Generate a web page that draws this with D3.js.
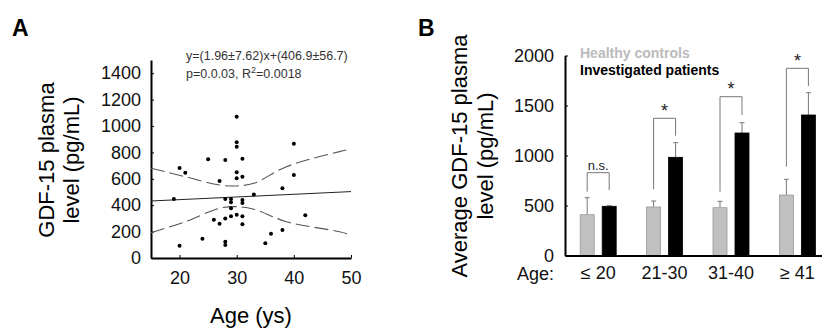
<html>
<head>
<meta charset="utf-8">
<title>GDF-15</title>
<script src="https://d3js.org/d3.v7.min.js"></script>
<style>
  body { margin: 0; background: #fff; }
  svg { font-family: "Liberation Sans", Arial, sans-serif; display: block; }
  .axis path, .axis line { stroke: #000; }
  .axis path { stroke-width: 2px; }
  .axis text { font-size: 18px; fill: #111; }
</style>
</head>
<body>
<div id="chart"></div>
<script>
// panel A: scatter
var ages   = [19,20,20,21,24,25,26,27,27,28,28,28,28,28,29,29,29,29,30,30,30,30,30,30,31,31,31,31,31,31,33,35,36,38,38,40,40,42];
var levels = [447,93,682,646,146,748,290,583,260,742,447,300,124,98,447,422,376,316,1070,876,843,649,604,328,752,616,439,417,316,255,482,111,184,528,212,866,629,323];
var fitLine   = [[15,432],[50,503]];
var upperBand = [[15,680],[21,616],[27,553],[30,546],[33,566],[38.7,692],[48,806],[50,825]];
var lowerBand = [[15,192],[21,275],[27,377],[30,389],[33,369],[38.7,275],[48,199],[50,174]];
var yTicksA = [0,200,400,600,800,1000,1200,1400];
var xTicksA = [20,30,40,50];

// panel B: bars
var groups    = ["≤ 20","21-30","31-40","≥ 41"];
var controls  = [408,485,478,605];
var controlsErr = [578,545,542,762];
var patients  = [492,982,1225,1405];
var patientsErr = [498,1128,1328,1628];
var bracketTop   = [828,1372,1588,1872];
var bracketLeft  = [638,662,638,888];
var bracketRight = [655,1198,1405,1695];
var sigLabels = ["n.s.","*","*","*"];
var yTicksB = [0,500,1000,1500,2000];

var svg = d3.select("#chart").append("svg").attr("width", 822).attr("height", 329);
var fmt = d3.format("d");

// ---------- A ----------
var xA = d3.scaleLinear().domain([15,50]).range([151,351]);
var yA = d3.scaleLinear().domain([0,1500]).range([258,60]);

svg.append("text").attr("x", 12).attr("y", 36).style("font-size","23px").style("font-weight","bold").text("A");

svg.append("g").attr("class","axis").attr("transform","translate(151,0)")
  .call(d3.axisLeft(yA).tickValues(yTicksA).tickFormat(fmt).tickSizeInner(-3).tickSizeOuter(0).tickPadding(10));
svg.append("g").attr("class","axis").attr("transform","translate(0,258)")
  .call(d3.axisBottom(xA).tickValues(xTicksA).tickFormat(fmt).tickSizeInner(-3).tickSizeOuter(0).tickPadding(13));

var lineA = d3.line().x(function(d){ return xA(d[0]); }).y(function(d){ return yA(d[1]); });
var curveA = d3.line().curve(d3.curveCatmullRom).x(function(d){ return xA(d[0]); }).y(function(d){ return yA(d[1]); });

svg.append("path").datum(fitLine).attr("d", lineA).attr("fill","none").attr("stroke","#222").attr("stroke-width",1);
[upperBand, lowerBand].forEach(function(b) {
  svg.append("path").datum(b).attr("d", curveA).attr("fill","none")
    .attr("stroke","#555").attr("stroke-width",1.1).attr("stroke-dasharray","14,5");
});

svg.selectAll("circle.pt").data(ages).enter().append("circle").attr("class","pt")
  .attr("cx", function(d){ return xA(d); })
  .attr("cy", function(d,i){ return yA(levels[i]); })
  .attr("r", 2).attr("fill","#000");

var ann = svg.append("g").style("font-size","12.5px").style("fill","#333");
ann.append("text").attr("x",186).attr("y",60).text("y=(1.96±7.62)x+(406.9±56.7)");
var t2 = ann.append("text").attr("x",186).attr("y",78);
t2.append("tspan").text("p=0.0.03, R");
t2.append("tspan").attr("dy",-5).style("font-size","9px").text("2");
t2.append("tspan").attr("dy",5).text("=0.0018");

var ytA = svg.append("g").attr("transform","translate(0,160) rotate(-90)").style("font-size","22px").attr("text-anchor","middle");
ytA.append("text").attr("y",54).text("GDF-15 plasma");
ytA.append("text").attr("y",79).text("level (pg/mL)");
svg.append("text").attr("x",251).attr("y",323).attr("text-anchor","middle").style("font-size","22px").text("Age (ys)");

// ---------- B ----------
var xB = d3.scaleBand().domain(groups).range([565, 830.6]).padding(0);
var sub = d3.scaleBand().domain(["c","p"]).range([-18,18]).paddingInner(0.3636).paddingOuter(0);
var yB = d3.scaleLinear().domain([0,2000]).range([255.5,55.5]);
var cx = function(i){ return xB(groups[i]) + xB.bandwidth()/2; };

svg.append("text").attr("x", 418).attr("y", 36).style("font-size","23px").style("font-weight","bold").text("B");

var bars = svg.append("g");
groups.forEach(function(g,i) {
  var c = cx(i);
  [[controls, controlsErr, "c", "#c0c0c0", "#999"], [patients, patientsErr, "p", "#000", "#000"]].forEach(function(s) {
    var x0 = c + sub(s[2]), xm = x0 + sub.bandwidth()/2;
    bars.append("line").attr("x1",xm).attr("x2",xm).attr("y1",yB(s[0][i])).attr("y2",yB(s[1][i]))
      .attr("stroke","#777").attr("stroke-width",1);
    bars.append("line").attr("x1",xm-2.5).attr("x2",xm+2.5).attr("y1",yB(s[1][i])).attr("y2",yB(s[1][i]))
      .attr("stroke","#777").attr("stroke-width",1);
    bars.append("rect").attr("x",x0).attr("width",sub.bandwidth())
      .attr("y",yB(s[0][i])).attr("height",yB(0)-yB(s[0][i]))
      .attr("fill",s[3]).attr("stroke",s[4]).attr("stroke-width",0.8);
  });
  var xl = c + sub("c") + sub.bandwidth()/2, xr = c + sub("p") + sub.bandwidth()/2;
  bars.append("path").attr("fill","none").attr("stroke","#777").attr("stroke-width",1)
    .attr("d","M"+xl+","+yB(bracketLeft[i])+"V"+yB(bracketTop[i])+"H"+xr+"V"+yB(bracketRight[i]));
  var ns = sigLabels[i] === "n.s.";
  bars.append("text").attr("x",c).attr("y",yB(bracketTop[i]) - (ns ? 3 : 1.5)).attr("text-anchor","middle")
    .style("font-size", ns ? "13px" : "18px").style("fill","#222").text(sigLabels[i]);
});

svg.append("g").attr("class","axis").attr("transform","translate(565,0)")
  .call(d3.axisLeft(yB).tickValues(yTicksB).tickFormat(fmt).tickSizeInner(-3).tickSizeOuter(0).tickPadding(11));
svg.append("g").attr("class","axis").attr("transform","translate(0,255.5)")
  .call(d3.axisBottom(xB).tickSize(0).tickPadding(11));
svg.append("text").attr("x",554).attr("y",280).attr("text-anchor","end").style("font-size","18px").style("fill","#111").text("Age:");

svg.append("text").attr("x",580).attr("y",58).style("font-size","14px").style("font-weight","bold").style("fill","#bbb").text("Healthy controls");
svg.append("text").attr("x",580).attr("y",75).style("font-size","14px").style("font-weight","bold").style("fill","#000").text("Investigated patients");

var ytB = svg.append("g").attr("transform","translate(0,156) rotate(-90)").style("font-size","22px").attr("text-anchor","middle");
ytB.append("text").attr("y",467).text("Average GDF-15 plasma");
ytB.append("text").attr("y",493).text("level (pg/mL)");
</script>
</body>
</html>
